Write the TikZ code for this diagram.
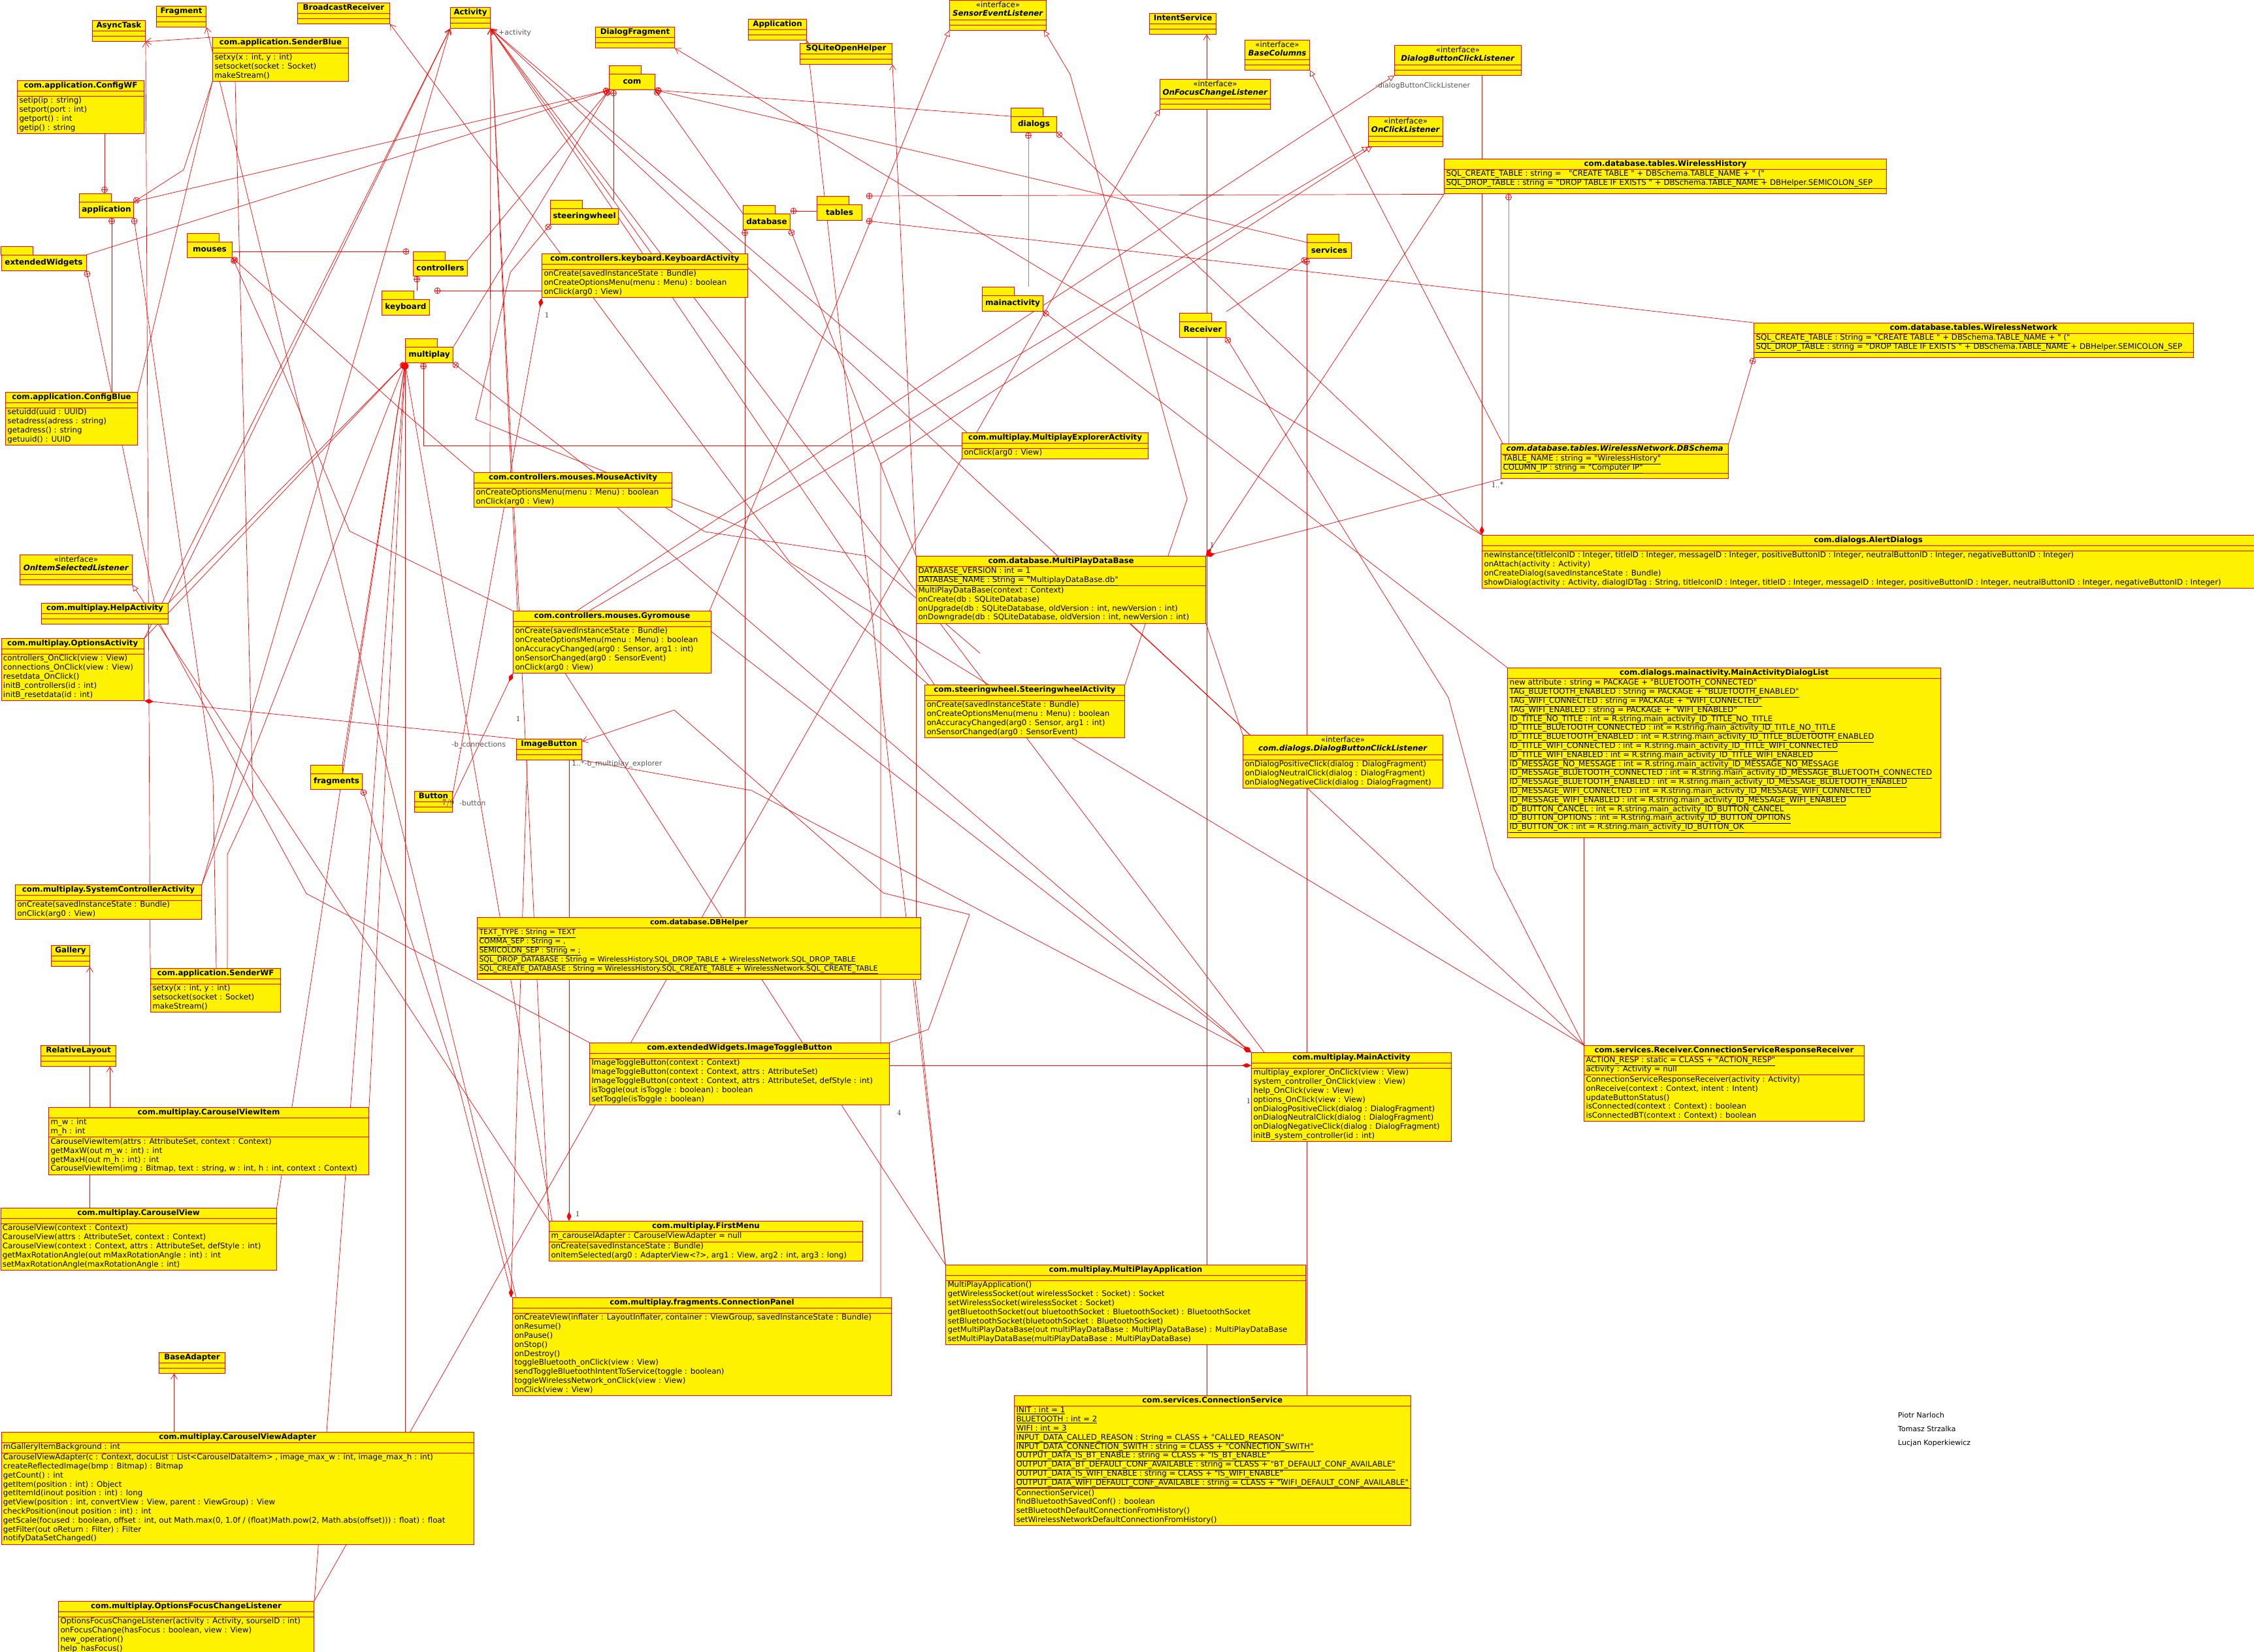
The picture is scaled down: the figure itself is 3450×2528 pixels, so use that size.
\documentclass[tikz,border=0pt]{standalone}
\usepackage{fontspec}
\newfontfamily\dv{DejaVu Sans}
\usetikzlibrary{shapes.multipart,arrows.meta,decorations.markings}
\pgfdeclarelayer{back}\pgfdeclarelayer{lines}
\pgfsetlayers{back,lines,main}
\newcommand\cf{\dv\fontsize{11.8}{13.8}\selectfont}
\newcommand\cfs{\dv\fontsize{11}{13.8}\selectfont}
\newcommand\pf{\dv\bfseries\fontsize{12}{14}\selectfont}
\newcommand\ulA[1]{\strut\smash{\underline{#1}}}
\newcommand\opL[1]{\strut #1}
\newcommand\ttl[1]{\strut\textbf{#1}}
\newcommand\itf[1]{\begin{tabular}{@{}c@{}}\strut«interface»\\\strut\textbf{\textit{#1}}\end{tabular}}
\tikzset{
 cls/.style={rectangle split, rectangle split parts=3, draw=red, fill=yellow, line width=1pt,
   align=left, rectangle split part align={center,left,left}, minimum width=#1,
   inner xsep=3pt, inner ysep=0.5pt, rectangle split empty part height=6pt,
   anchor=north west, font=\cf},
 pkg/.style={draw=red, fill=yellow, line width=1pt, minimum height=24pt, inner sep=1pt, anchor=north west, font=\pf},
 pkgtab/.style={draw=red, fill=yellow, line width=1pt},
 ln/.style={draw=red, line width=0.7pt},
 gln/.style={draw=black!45, line width=0.6pt},
 gen/.style={ln, -{Straight Barb[length=8pt,width=10pt]}},
 real/.style={ln, -{Triangle[open,length=9pt,width=9pt]}},
 comp/.style={ln, {Diamond[length=14pt,width=7pt]}-},
 oplus/.style={postaction={decorate, decoration={markings, mark=at position 4.5pt with {\draw[red, line width=0.7pt] (0,0) circle (4.5pt) (-4.5pt,0) -- (4.5pt,0) (0,-4.5pt) -- (0,4.5pt);}}}},
 pk/.style={ln, oplus},
 lbl/.style={font=\dv\fontsize{11}{13}\selectfont, text=black!65, inner sep=0pt},
 num/.style={font=\fontsize{12}{14}\selectfont, inner sep=0pt},
 auth/.style={font=\dv\fontsize{11}{13}\selectfont, inner sep=0pt, anchor=west}
}
\newcommand\pkgnode[5]{\node[pkg, minimum width=#4pt] (#1) at (#2,#3) {#5};
  \draw[pkgtab] (#1.north west) rectangle ++(49,-13);}
\begin{document}
\begin{tikzpicture}[x=1pt,y=-1pt]
\useasboundingbox (0,0) rectangle (3450,2528);
\begin{pgfonlayer}{back}\fill[white] (0,0) rectangle (3450,2528);\end{pgfonlayer}

% ---------- simple classes ----------
\node[cls=81pt] (at) at (141,31) {\ttl{AsyncTask}\nodepart{two}\nodepart{three}};
\node[cls=76pt] (fr) at (239,9) {\ttl{Fragment}\nodepart{two}\nodepart{three}};
\node[cls=141pt] (br) at (455,4) {\ttl{BroadcastReceiver}\nodepart{two}\nodepart{three}};
\node[cls=61pt] (act) at (689,11) {\ttl{Activity}\nodepart{two}\nodepart{three}};
\node[cls=121pt] (dfr) at (911,41) {\ttl{DialogFragment}\nodepart{two}\nodepart{three}};
\node[cls=89pt] (app) at (1145,29) {\ttl{Application}\nodepart{two}\nodepart{three}};
\node[cls=141pt] (sqh) at (1224,66) {\ttl{SQLiteOpenHelper}\nodepart{two}\nodepart{three}};
\node[cls=102pt] (ints) at (1759,20) {\ttl{IntentService}\nodepart{two}\nodepart{three}};
\node[cls=100pt] (ib) at (790,1131) {\ttl{ImageButton}\nodepart{two}\nodepart{three}};
\node[cls=58pt] (btn) at (634,1211) {\ttl{Button}\nodepart{two}\nodepart{three}};
\node[cls=59pt] (gal) at (78,1447) {\ttl{Gallery}\nodepart{two}\nodepart{three}};
\node[cls=115pt] (rl) at (62,1600) {\ttl{RelativeLayout}\nodepart{two}\nodepart{three}};
\node[cls=101pt] (ba) at (243,2070) {\ttl{BaseAdapter}\nodepart{two}\nodepart{three}};
\node[cls=194pt] (help) at (63,923) {\ttl{com.multiplay.HelpActivity}\nodepart{two}\nodepart{three}};

% ---------- interfaces ----------
\node[cls=148pt] (sel) at (1453,0) {\itf{SensorEventListener}\nodepart{two}\nodepart{three}};
\node[cls=99pt] (bcol) at (1905,61) {\itf{BaseColumns}\nodepart{two}\nodepart{three}};
\node[cls=169pt] (ofcl) at (1775,121) {\itf{OnFocusChangeListener}\nodepart{two}\nodepart{three}};
\node[cls=194pt] (dbclT) at (2134,69) {\itf{DialogButtonClickListener}\nodepart{two}\nodepart{three}};
\node[cls=114pt] (ocl) at (2094,178) {\itf{OnClickListener}\nodepart{two}\nodepart{three}};
\node[cls=172pt] (oisl) at (30,849) {\itf{OnItemSelectedListener}\nodepart{two}\nodepart{three}};

% ---------- packages ----------
\pkgnode{pcom}{932}{113}{70}{com}
\pkgnode{papp}{121}{309}{83}{application}
\pkgnode{pext}{1.5}{390}{130}{extendedWidgets}
\pkgnode{pmou}{286}{370}{69}{mouses}
\pkgnode{pctl}{632}{398}{83}{controllers}
\pkgnode{pkey}{584}{458}{73}{keyboard}
\pkgnode{pstw}{842}{319}{104}{steeringwheel}
\pkgnode{pmul}{620}{531}{73}{multiplay}
\pkgnode{pdlg}{1547}{178}{70}{dialogs}
\pkgnode{ptab}{1250}{313}{69}{tables}
\pkgnode{pdb}{1137}{327}{72}{database}
\pkgnode{psrv}{2000}{371}{68}{services}
\pkgnode{pmain}{1503}{452}{93}{mainactivity}
\pkgnode{prcv}{1805}{492}{71}{Receiver}
\pkgnode{pfrag}{475}{1184}{79}{fragments}

% ---------- full classes ----------
\node[cls=208pt] (sblue) at (325,57) {\ttl{com.application.SenderBlue}\nodepart{two}\nodepart{three}\opL{setxy(x : int, y : int)}\\\opL{setsocket(socket : Socket)}\\\opL{makeStream()}};
\node[cls=194pt] (cwf) at (26,123) {\ttl{com.application.ConfigWF}\nodepart{two}\nodepart{three}\opL{setip(ip : string)}\\\opL{setport(port : int)}\\\opL{getport() : int}\\\opL{getip() : string}};
\node[cls=202pt] (cblue) at (8,600) {\ttl{com.application.ConfigBlue}\nodepart{two}\nodepart{three}\opL{setuidd(uuid : UUID)}\\\opL{setadress(adress : string)}\\\opL{getadress() : string}\\\opL{getuuid() : UUID}};
\node[cls=315pt] (kbd) at (829,388) {\ttl{com.controllers.keyboard.KeyboardActivity}\nodepart{two}\nodepart{three}\opL{onCreate(savedInstanceState : Bundle)}\\\opL{onCreateOptionsMenu(menu : Menu) : boolean}\\\opL{onClick(arg0 : View)}};
\node[cls=303pt] (mouse) at (725,723) {\ttl{com.controllers.mouses.MouseActivity}\nodepart{two}\nodepart{three}\opL{onCreateOptionsMenu(menu : Menu) : boolean}\\\opL{onClick(arg0 : View)}};
\node[cls=285pt] (mea) at (1472,662) {\ttl{com.multiplay.MultiplayExplorerActivity}\nodepart{two}\nodepart{three}\opL{onClick(arg0 : View)}};
\node[cls=677pt] (whist) at (2210,243) {\ttl{com.database.tables.WirelessHistory}\nodepart{two}\ulA{SQL\_CREATE\_TABLE : string =\ \ \ "CREATE TABLE " + DBSchema.TABLE\_NAME + " ("}\\\ulA{SQL\_DROP\_TABLE : string =\ "DROP TABLE IF EXISTS " + DBSchema.TABLE\_NAME + DBHelper.SEMICOLON\_SEP}\nodepart{three}};
\node[cls=673pt] (wnet) at (2684,494) {\ttl{com.database.tables.WirelessNetwork}\nodepart{two}\ulA{SQL\_CREATE\_TABLE : String = "CREATE TABLE " + DBSchema.TABLE\_NAME + " ("}\\\ulA{SQL\_DROP\_TABLE : string = "DROP TABLE IF EXISTS " + DBSchema.TABLE\_NAME + DBHelper.SEMICOLON\_SEP}\nodepart{three}};
\node[cls=348pt] (dbs) at (2297,679) {\strut\textbf{\textit{com.database.tables.WirelessNetwork.DBSchema}}\nodepart{two}\ulA{TABLE\_NAME : string = "WirelessHistory"}\\\ulA{COLUMN\_IP : string = "Computer IP"}\nodepart{three}};
\node[cls=1182pt] (alert) at (2268,819) {\ttl{com.dialogs.AlertDialogs}\nodepart{two}\nodepart{three}\opL{newInstance(titleIconID : Integer, titleID : Integer, messageID : Integer, positiveButtonID : Integer, neutralButtonID : Integer, negativeButtonID : Integer)}\\\opL{onAttach(activity : Activity)}\\\opL{onCreateDialog(savedInstanceState : Bundle)}\\\opL{showDialog(activity : Activity, dialogIDTag : String, titleIconID : Integer, titleID : Integer, messageID : Integer, positiveButtonID : Integer, neutralButtonID : Integer, negativeButtonID : Integer)}};
\node[cls=218.5pt] (opts) at (1.5,977) {\ttl{com.multiplay.OptionsActivity}\nodepart{two}\nodepart{three}\opL{controllers\_OnClick(view : View)}\\\opL{connections\_OnClick(view : View)}\\\opL{resetdata\_OnClick()}\\\opL{initB\_controllers(id : int)}\\\opL{initB\_resetdata(id : int)}};
\node[cls=303pt] (gyro) at (785,935) {\ttl{com.controllers.mouses.Gyromouse}\nodepart{two}\nodepart{three}\opL{onCreate(savedInstanceState : Bundle)}\\\opL{onCreateOptionsMenu(menu : Menu) : boolean}\\\opL{onAccuracyChanged(arg0 : Sensor, arg1 : int)}\\\opL{onSensorChanged(arg0 : SensorEvent)}\\\opL{onClick(arg0 : View)}};
\node[cls=443pt] (mpdb) at (1402,851) {\ttl{com.database.MultiPlayDataBase}\nodepart{two}\ulA{DATABASE\_VERSION : int = 1}\\\ulA{DATABASE\_NAME : String = "MultiplayDataBase.db"}\nodepart{three}\opL{MultiPlayDataBase(context : Context)}\\\opL{onCreate(db : SQLiteDatabase)}\\\opL{onUpgrade(db : SQLiteDatabase, oldVersion : int, newVersion : int)}\\\opL{onDowngrade(db : SQLiteDatabase, oldVersion : int, newVersion : int)}};
\node[cls=306pt] (stwa) at (1415,1048) {\ttl{com.steeringwheel.SteeringwheelActivity}\nodepart{two}\nodepart{three}\opL{onCreate(savedInstanceState : Bundle)}\\\opL{onCreateOptionsMenu(menu : Menu) : boolean}\\\opL{onAccuracyChanged(arg0 : Sensor, arg1 : int)}\\\opL{onSensorChanged(arg0 : SensorEvent)}};
\node[cls=306pt] (dbcl) at (1902,1125) {\itf{com.dialogs.DialogButtonClickListener}\nodepart{two}\nodepart{three}\opL{onDialogPositiveClick(dialog : DialogFragment)}\\\opL{onDialogNeutralClick(dialog : DialogFragment)}\\\opL{onDialogNegativeClick(dialog : DialogFragment)}};
\node[cls=663pt] (madl) at (2307,1022) {\ttl{com.dialogs.mainactivity.MainActivityDialogList}\nodepart{two}\ulA{new attribute : string = PACKAGE + "BLUETOOTH\_CONNECTED"}\\\ulA{TAG\_BLUETOOTH\_ENABLED : String = PACKAGE + "BLUETOOTH\_ENABLED"}\\\ulA{TAG\_WIFI\_CONNECTED : string = PACKAGE + "WIFI\_CONNECTED"}\\\ulA{TAG\_WIFI\_ENABLED : string = PACKAGE + "WIFI\_ENABLED"}\\\ulA{ID\_TITLE\_NO\_TITLE : int = R.string.main\_activity\_ID\_TITLE\_NO\_TITLE}\\\ulA{ID\_TITLE\_BLUETOOTH\_CONNECTED : int = R.string.main\_activity\_ID\_TITLE\_NO\_TITLE}\\\ulA{ID\_TITLE\_BLUETOOTH\_ENABLED : int =\ R.string.main\_activity\_ID\_TITLE\_BLUETOOTH\_ENABLED}\\\ulA{ID\_TITLE\_WIFI\_CONNECTED : int = R.string.main\_activity\_ID\_TITLE\_WIFI\_CONNECTED}\\\ulA{ID\_TITLE\_WIFI\_ENABLED : int =\ R.string.main\_activity\_ID\_TITLE\_WIFI\_ENABLED}\\\ulA{ID\_MESSAGE\_NO\_MESSAGE : int = R.string.main\_activity\_ID\_MESSAGE\_NO\_MESSAGE}\\\ulA{ID\_MESSAGE\_BLUETOOTH\_CONNECTED : int = R.string.main\_activity\_ID\_MESSAGE\_BLUETOOTH\_CONNECTED}\\\ulA{ID\_MESSAGE\_BLUETOOTH\_ENABLED : int = R.string.main\_activity\_ID\_MESSAGE\_BLUETOOTH\_ENABLED}\\\ulA{ID\_MESSAGE\_WIFI\_CONNECTED : int = R.string.main\_activity\_ID\_MESSAGE\_WIFI\_CONNECTED}\\\ulA{ID\_MESSAGE\_WIFI\_ENABLED : int =\ R.string.main\_activity\_ID\_MESSAGE\_WIFI\_ENABLED}\\\ulA{ID\_BUTTON\_CANCEL : int =\ R.string.main\_activity\_ID\_BUTTON\_CANCEL}\\\ulA{ID\_BUTTON\_OPTIONS : int = R.string.main\_activity\_ID\_BUTTON\_OPTIONS}\\\ulA{ID\_BUTTON\_OK : int = R.string.main\_activity\_ID\_BUTTON\_OK}\nodepart{three}};
\node[cls=285pt] (sysc) at (23,1354) {\ttl{com.multiplay.SystemControllerActivity}\nodepart{two}\nodepart{three}\opL{onCreate(savedInstanceState : Bundle)}\\\opL{onClick(arg0 : View)}};
\node[cls=199pt] (swf) at (230,1482) {\ttl{com.application.SenderWF}\nodepart{two}\nodepart{three}\opL{setxy(x : int, y : int)}\\\opL{setsocket(socket : Socket)}\\\opL{makeStream()}};
\node[cls=679pt, font=\cfs] (dbh) at (730,1404) {\ttl{com.database.DBHelper}\nodepart{two}\ulA{TEXT\_TYPE : String = TEXT}\\\ulA{COMMA\_SEP : String = ,}\\\ulA{SEMICOLON\_SEP : String = ;}\\\ulA{SQL\_DROP\_DATABASE : String =\ WirelessHistory.SQL\_DROP\_TABLE + WirelessNetwork.SQL\_DROP\_TABLE}\\\ulA{SQL\_CREATE\_DATABASE : String = WirelessHistory.SQL\_CREATE\_TABLE + WirelessNetwork.SQL\_CREATE\_TABLE}\nodepart{three}};
\node[cls=459pt] (itb) at (902,1596) {\ttl{com.extendedWidgets.ImageToggleButton}\nodepart{two}\nodepart{three}\opL{ImageToggleButton(context : Context)}\\\opL{ImageToggleButton(context : Context, attrs : AttributeSet)}\\\opL{ImageToggleButton(context : Context, attrs : AttributeSet, defStyle : int)}\\\opL{isToggle(out isToggle : boolean) : boolean}\\\opL{setToggle(isToggle : boolean)}};
\node[cls=306pt] (mainact) at (1915,1611) {\ttl{com.multiplay.MainActivity}\nodepart{two}\nodepart{three}\opL{multiplay\_explorer\_OnClick(view : View)}\\\opL{system\_controller\_OnClick(view : View)}\\\opL{help\_OnClick(view : View)}\\\opL{options\_OnClick(view : View)}\\\opL{onDialogPositiveClick(dialog : DialogFragment)}\\\opL{onDialogNeutralClick(dialog : DialogFragment)}\\\opL{onDialogNegativeClick(dialog : DialogFragment)}\\\opL{initB\_system\_controller(id : int)}};
\node[cls=429pt] (csrr) at (2424,1600) {\ttl{com.services.Receiver.ConnectionServiceResponseReceiver}\nodepart{two}\ulA{ACTION\_RESP : static = CLASS + "ACTION\_RESP"}\\\opL{activity : Activity = null}\nodepart{three}\opL{ConnectionServiceResponseReceiver(activity : Activity)}\\\opL{onReceive(context : Context, intent : Intent)}\\\opL{updateButtonStatus()}\\\opL{isConnected(context : Context) : boolean}\\\opL{isConnectedBT(context : Context) : boolean}};
\node[cls=490pt] (cvi) at (74,1695) {\ttl{com.multiplay.CarouselViewItem}\nodepart{two}\opL{m\_w : int}\\\opL{m\_h : int}\nodepart{three}\opL{CarouselViewItem(attrs : AttributeSet, context : Context)}\\\opL{getMaxW(out m\_w : int) : int}\\\opL{getMaxH(out m\_h : int) : int}\\\opL{CarouselViewItem(img : Bitmap, text : string, w : int, h : int, context : Context)}};
\node[cls=422pt] (cv) at (0.5,1849) {\ttl{com.multiplay.CarouselView}\nodepart{two}\nodepart{three}\opL{CarouselView(context : Context)}\\\opL{CarouselView(attrs : AttributeSet, context : Context)}\\\opL{CarouselView(context : Context, attrs : AttributeSet, defStyle : int)}\\\opL{getMaxRotationAngle(out mMaxRotationAngle : int) : int}\\\opL{setMaxRotationAngle(maxRotationAngle : int)}};
\node[cls=480pt] (fmenu) at (840,1869) {\ttl{com.multiplay.FirstMenu}\nodepart{two}\opL{m\_carouselAdapter : CarouselViewAdapter = null}\nodepart{three}\opL{onCreate(savedInstanceState : Bundle)}\\\opL{onItemSelected(arg0 : AdapterView<?>, arg1 : View, arg2 : int, arg3 : long)}};
\node[cls=551pt] (mpa) at (1447,1936) {\ttl{com.multiplay.MultiPlayApplication}\nodepart{two}\nodepart{three}\opL{MultiPlayApplication()}\\\opL{getWirelessSocket(out wirelessSocket : Socket) : Socket}\\\opL{setWirelessSocket(wirelessSocket : Socket)}\\\opL{getBluetoothSocket(out bluetoothSocket : BluetoothSocket) : BluetoothSocket}\\\opL{setBluetoothSocket(bluetoothSocket : BluetoothSocket)}\\\opL{getMultiPlayDataBase(out multiPlayDataBase : MultiPlayDataBase) : MultiPlayDataBase}\\\opL{setMultiPlayDataBase(multiPlayDataBase : MultiPlayDataBase)}};
\node[cls=580pt] (cpanel) at (784,1986) {\ttl{com.multiplay.fragments.ConnectionPanel}\nodepart{two}\nodepart{three}\opL{onCreateView(inflater : LayoutInflater, container : ViewGroup, savedInstanceState : Bundle)}\\\opL{onResume()}\\\opL{onPause()}\\\opL{onStop()}\\\opL{onDestroy()}\\\opL{toggleBluetooth\_onClick(view : View)}\\\opL{sendToggleBluetoothIntentToService(toggle : boolean)}\\\opL{toggleWirelessNetwork\_onClick(view : View)}\\\opL{onClick(view : View)}};
\node[cls=606pt] (csvc) at (1552,2136) {\ttl{com.services.ConnectionService}\nodepart{two}\ulA{INIT : int = 1}\\\ulA{BLUETOOTH : int = 2}\\\ulA{WIFI : int = 3}\\\ulA{INPUT\_DATA\_CALLED\_REASON : String =\ CLASS + "CALLED\_REASON"}\\\ulA{INPUT\_DATA\_CONNECTION\_SWITH : string = CLASS + "CONNECTION\_SWITH"}\\\ulA{OUTPUT\_DATA\_IS\_BT\_ENABLE : string = CLASS + "IS\_BT\_ENABLE"}\\\ulA{OUTPUT\_DATA\_BT\_DEFAULT\_CONF\_AVAILABLE : string = CLASS + "BT\_DEFAULT\_CONF\_AVAILABLE"}\\\ulA{OUTPUT\_DATA\_IS\_WIFI\_ENABLE : string = CLASS + "IS\_WIFI\_ENABLE"}\\\ulA{OUTPUT\_DATA\_WIFI\_DEFAULT\_CONF\_AVAILABLE : string = CLASS + "WIFI\_DEFAULT\_CONF\_AVAILABLE"}\nodepart{three}\opL{ConnectionService()}\\\opL{findBluetoothSavedConf() : boolean}\\\opL{setBluetoothDefaultConnectionFromHistory()}\\\opL{setWirelessNetworkDefaultConnectionFromHistory()}};
\node[cls=723.5pt] (cva) at (1.5,2192) {\ttl{com.multiplay.CarouselViewAdapter}\nodepart{two}\opL{mGalleryItemBackground : int}\nodepart{three}\opL{CarouselViewAdapter(c : Context, docuList : List<CarouselDataItem> , image\_max\_w : int, image\_max\_h : int)}\\\opL{createReflectedImage(bmp : Bitmap) : Bitmap}\\\opL{getCount() : int}\\\opL{getItem(position : int) : Object}\\\opL{getItemId(inout position : int) : long}\\\opL{getView(position : int, convertView : View, parent : ViewGroup) : View}\\\opL{checkPosition(inout position : int) : int}\\\opL{getScale(focused : boolean, offset : int, out Math.max(0, 1.0f / (float)Math.pow(2, Math.abs(offset))) : float) : float}\\\opL{getFilter(out oReturn : Filter) : Filter}\\\opL{notifyDataSetChanged()}};
\node[cls=391pt] (ofocus) at (89,2451) {\ttl{com.multiplay.OptionsFocusChangeListener}\nodepart{two}\nodepart{three}\opL{OptionsFocusChangeListener(activity : Activity, sourseID : int)}\\\opL{onFocusChange(hasFocus : boolean, view : View)}\\\opL{new\_operation()}\\\opL{help\_hasFocus()}};

% ---------- connectors ----------
\begin{pgfonlayer}{lines}
% generalizations
\draw[gen] (sblue.north west) -- (at.south east);
\draw[gen] (swf.north west) -- (at.south east);
\draw[gen] ([xshift=6pt]cpanel.north west) -- (fr.south east);
\draw[gen] ([xshift=98pt]stwa.north west) -- (1209,861) -- (br.south east);
\draw[gen] ([xshift=168pt]kbd.north west) -- (act.south east);
\draw[gen] ([xshift=25pt]mouse.north west) -- (act.south east);
\draw[gen] ([xshift=7pt]gyro.north west) -- (act.south east);
\draw[gen] (sysc.north east) -- (act.south west);
\draw[gen] (opts.north east) -- (act.south west);
\draw[gen] (help.north east) -- (act.south west);
\draw[gen] (fmenu.north west) -- (act.south east);
\draw[gen] ([xshift=8pt]mea.north west) -- (act.south east);
\draw[gen] ([xshift=15pt]stwa.north west) -- (act.south east);
\draw[gen] ([xshift=20pt]mainact.north west) -- (act.south east);
\draw[gen] (csrr.north west) -- (act.south east);
\draw[gen] (alert.north west) -- (dfr.south east);
\draw[gen] (mpa.north west) -- (app.south east);
\draw[gen] (mpdb.north west) -- (sqh.south east);
\draw[gen] ([xshift=295pt]csvc.north west) -- ([xshift=295pt]csvc.north west |- ints.south);
\draw[gen] ([xshift=137pt]cv.north west) -- ([xshift=137pt]cv.north west |- gal.south);
\draw[gen] ([xshift=94pt]cvi.north west) -- ([xshift=94pt]cvi.north west |- rl.south);
\draw[gen] ([xshift=265pt]cva.north west) -- ([xshift=265pt]cva.north west |- ba.south);
\draw[gen] (itb.north east) -- (1421,1576) -- (1484,1400) -- (1352,1367) -- (1032,1087) -- ([yshift=-4pt]ib.north east);
% realizations
\draw[real] ([xshift=-3pt]gyro.north east) -- (sel.south west);
\draw[real] (stwa.north east) -- (1817,764) -- (1638,114) -- ([xshift=-4pt]sel.south east);
\draw[real] (ofocus.north east) -- (ofcl.south west);
\draw[real] ([xshift=3pt]dbs.north west) -- (bcol.south east);
\draw[real] ([xshift=117pt]gyro.north west) -- (ocl.south west);
\draw[real] ([xshift=98pt]gyro.north west) -- (dbclT.south west);
\draw[real] ([xshift=564pt]cpanel.north west) -- (1348,710) -- ([xshift=6pt]ocl.south west);
\draw[real] (fmenu.north west) -- (oisl.south east);
% compositions
\draw[comp] (alert.north west) -- (alert.north west |- dbclT.south);
\draw[comp] (mpdb.north east) -- (dbs.south west);
\draw[comp] (mpdb.north east) -- (whist.south west);
\draw[comp] (opts.south east) -- (ib.north west);
\draw[comp] (gyro.south west) -- ([yshift=-13pt]btn.north east);
\draw[comp] (kbd.south west) -- ([yshift=-4pt]btn.north east);
\draw[comp] (mainact.north west) -- (1150,1210) -- (ib.south east);
\draw[comp] ([yshift=-20pt]mainact.north west) -- ([yshift=-20pt]mainact.north west -| itb.east);
\draw[comp] (mainact.north west) -- ([yshift=-32pt]gyro.north east);
\draw[comp] (mainact.north west) -- ([xshift=220pt]mouse.south west);
\draw[comp] ([xshift=31pt]fmenu.north west) -- ([xshift=31pt]fmenu.north west |- ib.south);
\draw[comp] ([xshift=-2pt]cpanel.north west) -- ([xshift=17pt]ib.south west);
% plain associations
\draw[ln] ([xshift=80pt]gyro.south west) -- ([xshift=326pt]itb.north west);
\draw[ln] ([xshift=386pt]itb.south west) -- (mpa.north west);
\draw[ln] (mpdb.south west) -- (mpdb.south west |- dbh.north);
\draw[ln] ([xshift=-9pt]dbh.south east) -- (mpa.north west);
\draw[ln] ([xshift=327pt]mpdb.south west) -- ([xshift=11pt]dbcl.north west);
\draw[ln] (mpdb.south east) -- (dbcl.north west);
\draw[ln] ([xshift=226pt]stwa.south west) -- (csrr.north west);
\draw[ln] (csrr.north west) -- (csrr.north west |- madl.south);
\draw[ln] (cblue.north east) -- (sblue.south west);
\draw[ln] ([xshift=118pt]swf.north west) -- (348,1308) -- (387,1224) -- ([xshift=35pt]sblue.south west);
\draw[ln] ([xshift=-10pt]mouse.south east) -- (1079,814) -- (1327,851) -- (1500,1000);
% package containment
\draw[pk] (pcom.south west) -- (papp.north east);
\draw[pk] (pcom.south west) -- (pext.north east);
\draw[pk] (pcom.south west) -- (pctl.north east);
\draw[pk] ([xshift=7pt]pcom.south west) -- ([xshift=97pt,yshift=13pt]pstw.north west);
\draw[pk] (pcom.south west) -- (pmul.north east);
\draw[pk] (pcom.south east) -- (pdb.north west);
\draw[pk] (pcom.south east) -- (pdlg.north west);
\draw[pk] (pcom.south east) -- (psrv.north west);
\draw[pk] ([xshift=39pt,yshift=14pt]papp.north west) -- ([xshift=39pt]papp.north west |- cwf.south);
\draw[pk] ([xshift=50pt]papp.south west) -- ([xshift=50pt]papp.south west |- cblue.north);
\draw[pk] (papp.south east) -- (326,1193) -- ([xshift=101pt]swf.north west);
\draw[pk] (papp.north east) -- (281,260) -- (sblue.south west);
\draw[pk] ([xshift=-6pt,yshift=13pt]pctl.north west) -- ([xshift=-6pt,yshift=13pt]pctl.north west -| pmou.east);
\draw[pk] ([xshift=6pt]pctl.south west) -- ([xshift=54pt,yshift=13pt]pkey.north west);
\draw[pk] ([xshift=7pt,yshift=13pt]pkey.north east) -- ([xshift=7pt,yshift=13pt]pkey.north east -| kbd.west);
\draw[pk] (pmou.south east) -- (616,629) -- (mouse.north west);
\draw[pk] (pmou.south east) -- (429,558) -- (535,813) -- (gyro.north west);
\draw[pk] ([xshift=28pt]pmul.south west) |- (mea.west);
\draw[pk] (pmul.south west) -- (help.north east);
\draw[pk] (pmul.south west) -- (opts.north east);
\draw[pk] (pmul.south west) -- (sysc.north east);
\draw[pk] (pmul.south west) -- (cv.north east);
\draw[pk] (pmul.south west) -- (cvi.north east);
\draw[pk] (pmul.south west) -- (pmul.south west |- cva.north);
\draw[pk] (pmul.south west) -- (ofocus.north east);
\draw[pk] (pmul.south west) -- ([xshift=49pt,yshift=13pt]pfrag.north west);
\draw[pk] (pmul.south west) -- ([xshift=5pt]fmenu.north west);
\draw[pk] (pmul.south east) -- ([xshift=184pt]mouse.north west);
\draw[pk] (pfrag.south east) -- (704,1670) -- (cpanel.north west);
\draw[pk] (pstw.south west) -- (781,417) -- (728,642) -- (1150,813) -- ([xshift=6pt]stwa.north west);
\draw[pk] (pext.south east) -- (242,950) -- (469,1368) -- (itb.north west);
\draw[pk] ([yshift=4pt]pdb.north east) -- ([yshift=4pt]pdb.north east -| ptab.west);
\draw[pk] ([xshift=3pt]pdb.south west) -- ([xshift=3pt]pdb.south west |- dbh.north);
\draw[pk] (pdb.south east) -- (mpdb.north west);
\draw[pk] ([xshift=6pt,yshift=13pt]ptab.north east) -- (whist.south west);
\draw[pk] ([xshift=6pt]ptab.south east) -- (wnet.north west);
\draw[gln, oplus] ([xshift=99pt]whist.south west) -- ([xshift=99pt]whist.south west |- dbs.north);
\draw[pk] (wnet.south west) -- (dbs.north east);
\draw[gln, oplus] ([xshift=27pt]pdlg.south west) -- ([xshift=71pt,yshift=13pt]pmain.north west);
\draw[pk] (pdlg.south east) -- (alert.north west);
\draw[pk] (pmain.south east) -- (madl.north west);
\draw[pk] (psrv.south west) -- ([yshift=15pt]prcv.north east);
\draw[pk] (psrv.south west) -- (psrv.south west |- csvc.north);
\draw[pk] (prcv.south east) -- (2081,850) -- (2217,1068) -- (2287,1330) -- (csrr.north west);
\end{pgfonlayer}

% ---------- labels ----------
\node[lbl, anchor=west] (l1) at (763,50) {+activity};
\node[lbl, anchor=west] (l2) at (2105,131) {-dialogButtonClickListener};
\node[num] (l3) at (837,482) {1};
\node[num, anchor=west] (l4) at (2283,742) {1..*};
\node[num] (l5) at (1855,834) {1};
\node[num] (l6) at (793,1100) {1};
\node[lbl, anchor=west] (l7) at (691,1141) {-b\_connections};
\node[lbl, anchor=west] (l8) at (875,1170) {1..*-b\_multiplay\_explorer};
\node[lbl, anchor=west] (l9) at (703,1229) {-button};
\node[num] (l10) at (686,1229) {7/9};
\node[num] (l11) at (1376,1703) {4};
\node[num] (l12) at (884,1858) {1};
\node[num] (l13) at (1911,1685) {1};
\node[auth] (a1) at (2905,2166) {Piotr Narloch};
\node[auth] (a2) at (2905,2187) {Tomasz Strzalka};
\node[auth] (a3) at (2905,2209) {Lucjan Koperkiewicz};
\end{tikzpicture}
\end{document}
